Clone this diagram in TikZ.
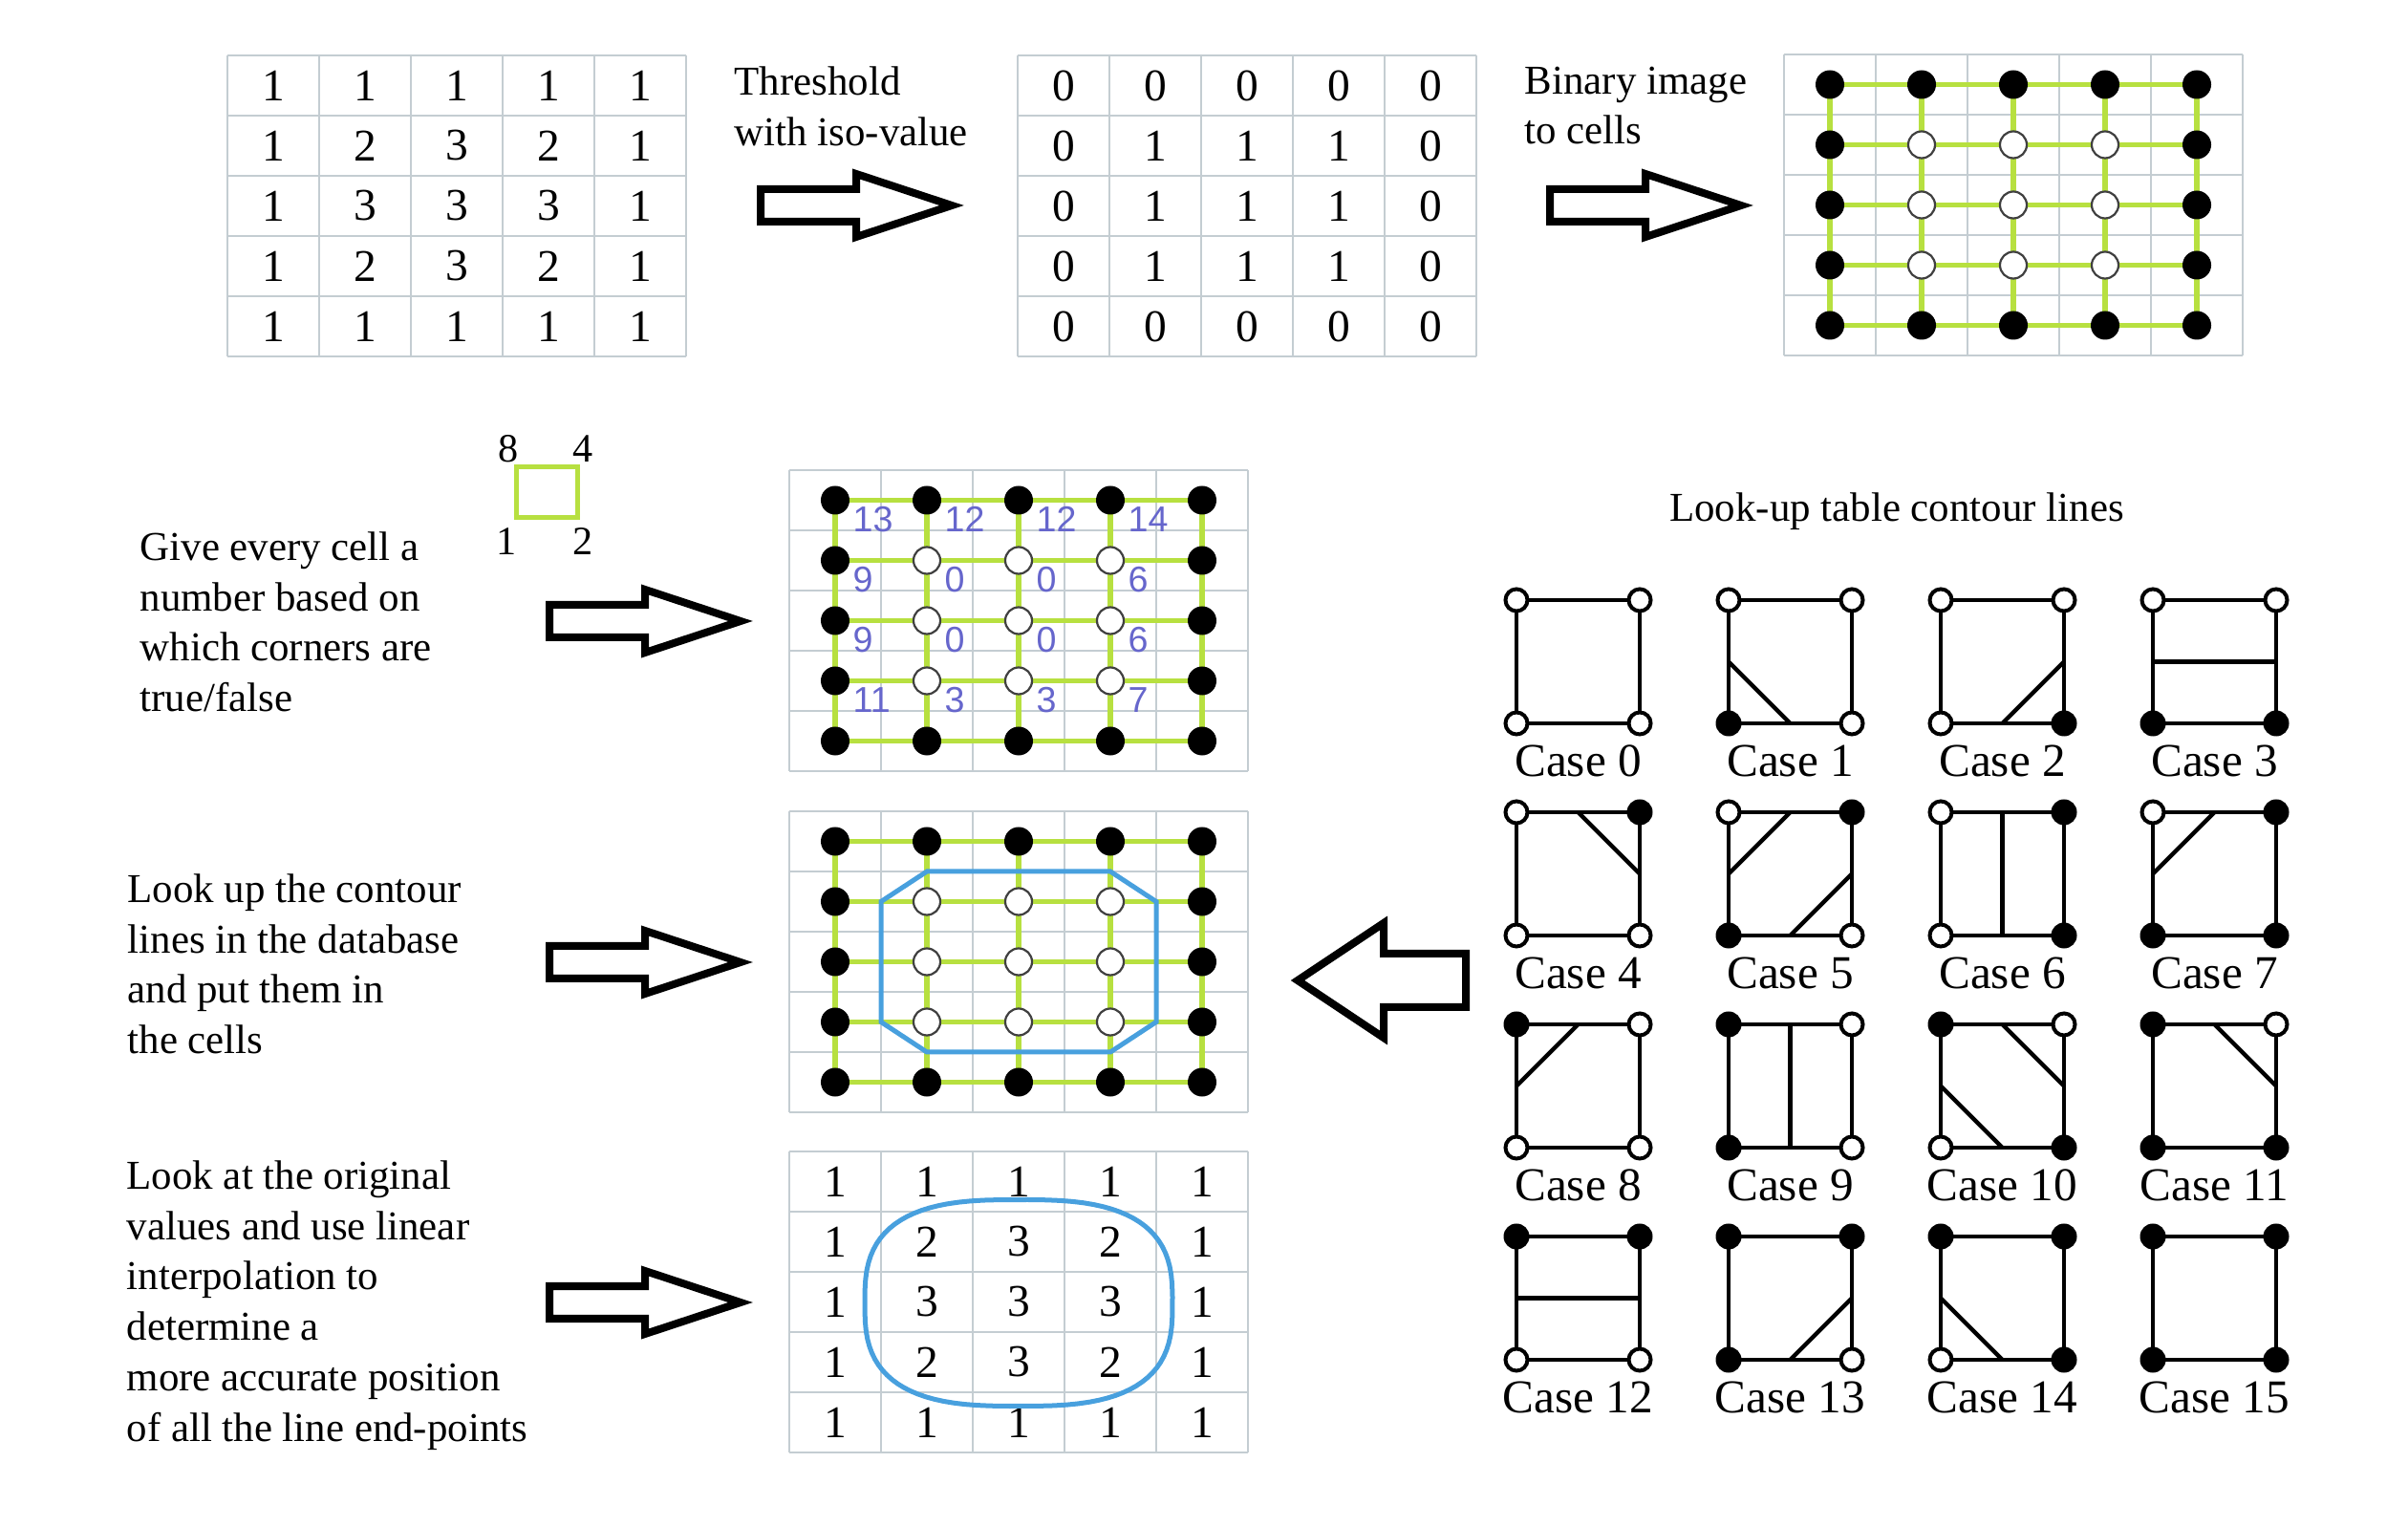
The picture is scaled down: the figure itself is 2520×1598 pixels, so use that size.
\documentclass[tikz,border=0pt]{standalone}
\usepackage{fontspec}
\setmainfont{Liberation Serif}
\newfontfamily\idxfont{Liberation Sans}
\usepackage{tikz}
\usetikzlibrary{positioning}
\usepackage{xcolor}
\definecolor{gridgray}{RGB}{196,205,210}
\definecolor{cellgreen}{RGB}{183,224,64}
\definecolor{contourblue}{RGB}{72,160,222}
\definecolor{idxblue}{RGB}{102,102,204}

% 5x5 table of cells, 96 x 63 each
\newcommand{\cellgrid}[2]{%
  \foreach \k in {0,...,5}{
    \draw[gridline] (#1+\k*96,#2) -- (#1+\k*96,#2+315);
    \draw[gridline] (#1,#2+\k*63) -- (#1+480,#2+\k*63);
  }}
% values written in the cells
\newcommand{\valtable}[4]{%
  \foreach \row [count=\r from 0] in {#4}{
    \foreach \v [count=\c from 0] in \row
      \node[val] (#1-\r-\c) at (#2+48+\c*96,#3+31.5+\r*63) {\v};
  }}
% green links between the cell centres
\newcommand{\linkgrid}[2]{%
  \foreach \k in {0,...,4}{
    \draw[link] (#1+48,#2+31.5+\k*63) -- (#1+432,#2+31.5+\k*63);
    \draw[link] (#1+48+\k*96,#2+31.5) -- (#1+48+\k*96,#2+283.5);
  }}
% black border dots, white inner dots
\newcommand{\dotgrid}[3]{%
  \foreach \r in {0,...,4}{
    \foreach \c in {0,...,4}{
      \pgfmathtruncatemacro\dotin{(\r>0)*(\r<4)*(\c>0)*(\c<4)}
      \ifnum\dotin=1
        \node[offdot] (#1-\r-\c) at (#2+48+\c*96,#3+31.5+\r*63) {};
      \else
        \node[ondot]  (#1-\r-\c) at (#2+48+\c*96,#3+31.5+\r*63) {};
      \fi
    }
  }}
% right-pointing block arrow, tail at (#2,#3)
\newcommand{\rightblk}[3]{%
  \draw[blk] (#2,#3-17) -- ++(100,0) -- ++(0,-16) -- ++(100,33)
    -- ++(-100,33) -- ++(0,-16) -- ++(-100,0) -- cycle;
  \coordinate (#1) at (#2+100,#3);}
% one look-up table entry: number, column, row, corners tl/tr/br/bl, lines
\newcommand{\lutcase}[8]{%
  \begin{scope}[shift={(1587+#2*222,628+#3*222)}]
    \coordinate (L) at (0,64.5);  \coordinate (R) at (129,64.5);
    \coordinate (T) at (64.5,0);  \coordinate (B) at (64.5,129);
    \draw[lutline] (0,0) rectangle (129,129);
    #8
    \node[#4] (case#1-tl) at (0,0)     {};
    \node[#5] (case#1-tr) at (129,0)   {};
    \node[#6] (case#1-br) at (129,129) {};
    \node[#7] (case#1-bl) at (0,129)   {};
    \node[casename] (case#1) at (64.5,185) {Case #1};
  \end{scope}}

\begin{document}
\begin{tikzpicture}[
  x=0.01cm, y=-0.01cm,
  gridline/.style={draw=gridgray,line width=0.02cm},
  link/.style={draw=cellgreen,line width=0.055cm},
  ondot/.style={circle,fill=black,minimum size=0.30cm,inner sep=0pt},
  offdot/.style={circle,fill=white,draw=black!75,line width=0.022cm,
                 minimum size=0.28cm,inner sep=0pt},
  val/.style={font=\fontsize{13.5}{16}\selectfont,inner sep=0pt},
  idx/.style={font=\idxfont\fontsize{10.7}{12}\selectfont,text=idxblue,
              anchor=west,inner sep=0pt},
  steptext/.style={font=\fontsize{12.2}{15}\selectfont,align=left,
                   anchor=north west,inner sep=0pt},
  corner/.style={font=\fontsize{12}{14}\selectfont,inner sep=0pt},
  blk/.style={draw=black,fill=white,line width=0.08cm},
  contour/.style={draw=contourblue,line width=0.05cm},
  lutline/.style={draw=black,line width=0.045cm},
  luton/.style={circle,fill=black,minimum size=0.27cm,inner sep=0pt},
  lutoff/.style={circle,fill=white,draw=black,line width=0.04cm,
                 minimum size=0.23cm,inner sep=0pt},
  casename/.style={font=\fontsize{14}{17}\selectfont,anchor=base,inner sep=0pt}
]
  \useasboundingbox (0,0) rectangle (2520,1598);

  % ---- Row 1: values -> binary -> cells ----
  \cellgrid{238}{58}
  \valtable{orig}{238}{58}{{1,1,1,1,1},{1,2,3,2,1},{1,3,3,3,1},{1,2,3,2,1},{1,1,1,1,1}}
  \node[steptext] (thr) at (768,69) {Threshold\\with iso-value};
  \rightblk{arrA}{796}{215}

  \cellgrid{1065}{58}
  \valtable{bin}{1065}{58}{{0,0,0,0,0},{0,1,1,1,0},{0,1,1,1,0},{0,1,1,1,0},{0,0,0,0,0}}
  \node[steptext] (tocells) at (1595,69) {Binary image\\to cells};
  \rightblk{arrB}{1622}{215}

  \cellgrid{1867}{57}
  \linkgrid{1867}{57}
  \dotgrid{cells}{1867}{57}

  % ---- Row 2: cell numbers ----
  \node[steptext] (give) at (146,556)
    {Give every cell a\\number based on\\which corners are\\true/false};
  \node[draw=cellgreen,line width=0.05cm,minimum width=0.63cm,
        minimum height=0.52cm,inner sep=0pt] (key) at (572.5,515) {};
  \node[corner] at (532,470) {8};
  \node[corner] at (610,470) {4};
  \node[corner] at (530,567) {1};
  \node[corner] at (610,567) {2};
  \rightblk{arrC}{575}{650}

  \cellgrid{826}{492}
  \linkgrid{826}{492}
  \dotgrid{num}{826}{492}
  \foreach \row [count=\r from 0] in {{13,12,12,14},{9,0,0,6},{9,0,0,6},{11,3,3,7}}{
    \foreach \v [count=\c from 0] in \row
      \node[idx] (code-\r-\c) at (892+\c*96,543.5+\r*63) {\v};
  }

  \node[font=\fontsize{12.2}{14}\selectfont,anchor=base,inner sep=0pt]
    (luttitle) at (1985,546) {Look-up table contour lines};

  % ---- Row 3: contour lines ----
  \node[steptext] (lookup) at (133,914)
    {Look up the contour\\lines in the database\\and put them in\\the cells};
  \rightblk{arrD}{575}{1007}

  \cellgrid{826}{849}
  \linkgrid{826}{849}
  \draw[contour] (970,912) -- (1162,912) -- (1210,943.5) -- (1210,1069.5)
    -- (1162,1101) -- (970,1101) -- (922,1069.5) -- (922,943.5) -- cycle;
  \dotgrid{cont}{826}{849}

  \draw[blk] (1534,998) -- (1448,998) -- (1448,966) -- (1358,1026)
    -- (1448,1086) -- (1448,1054) -- (1534,1054) -- cycle;

  % ---- Row 4: interpolation ----
  \node[steptext] (interp) at (132,1214)
    {Look at the original\\values and use linear\\interpolation to\\determine a\\more accurate position\\of all the line end-points};
  \rightblk{arrE}{575}{1363}

  \cellgrid{826}{1205}
  \valtable{fine}{826}{1205}{{1,1,1,1,1},{1,2,3,2,1},{1,3,3,3,1},{1,2,3,2,1},{1,1,1,1,1}}
  \draw[contour] plot[variable=\t,domain=1:357,samples=90]
    ({1066+161*sign(cos(\t))*abs(cos(\t))^0.7},
     {1363.5-108*sign(sin(\t))*abs(sin(\t))^0.7}) -- cycle;

  % ---- Look-up table ----
  \lutcase{0}{0}{0}{lutoff}{lutoff}{lutoff}{lutoff}{}
  \lutcase{1}{1}{0}{lutoff}{lutoff}{lutoff}{luton}{\draw[lutline] (L) -- (B);}
  \lutcase{2}{2}{0}{lutoff}{lutoff}{luton}{lutoff}{\draw[lutline] (B) -- (R);}
  \lutcase{3}{3}{0}{lutoff}{lutoff}{luton}{luton}{\draw[lutline] (L) -- (R);}
  \lutcase{4}{0}{1}{lutoff}{luton}{lutoff}{lutoff}{\draw[lutline] (T) -- (R);}
  \lutcase{5}{1}{1}{lutoff}{luton}{lutoff}{luton}{\draw[lutline] (L) -- (T) (B) -- (R);}
  \lutcase{6}{2}{1}{lutoff}{luton}{luton}{lutoff}{\draw[lutline] (T) -- (B);}
  \lutcase{7}{3}{1}{lutoff}{luton}{luton}{luton}{\draw[lutline] (L) -- (T);}
  \lutcase{8}{0}{2}{luton}{lutoff}{lutoff}{lutoff}{\draw[lutline] (T) -- (L);}
  \lutcase{9}{1}{2}{luton}{lutoff}{lutoff}{luton}{\draw[lutline] (T) -- (B);}
  \lutcase{10}{2}{2}{luton}{lutoff}{luton}{lutoff}{\draw[lutline] (T) -- (R) (L) -- (B);}
  \lutcase{11}{3}{2}{luton}{lutoff}{luton}{luton}{\draw[lutline] (T) -- (R);}
  \lutcase{12}{0}{3}{luton}{luton}{lutoff}{lutoff}{\draw[lutline] (L) -- (R);}
  \lutcase{13}{1}{3}{luton}{luton}{lutoff}{luton}{\draw[lutline] (B) -- (R);}
  \lutcase{14}{2}{3}{luton}{luton}{luton}{lutoff}{\draw[lutline] (L) -- (B);}
  \lutcase{15}{3}{3}{luton}{luton}{luton}{luton}{}
\end{tikzpicture}
\end{document}
